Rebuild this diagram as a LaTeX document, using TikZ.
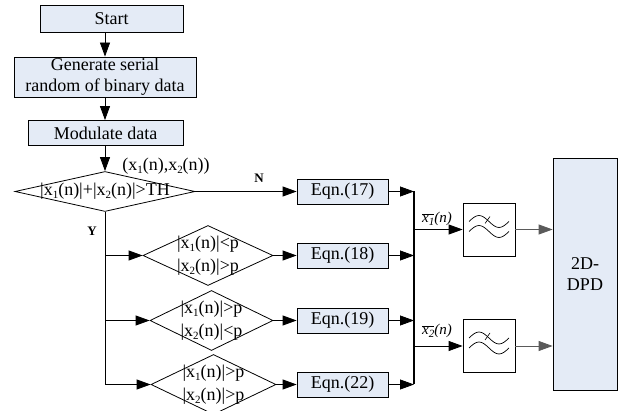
\documentclass[tikz,border=0pt]{standalone}
\usepackage{fontspec}
\setmainfont{Liberation Serif}
\usetikzlibrary{arrows.meta,shapes.geometric,calc}
\definecolor{boxfill}{RGB}{228,235,246}
\definecolor{darkline}{RGB}{90,90,90}
\newcommand\sbx[1]{\raisebox{-0.35ex}{\fontsize{11}{11}\selectfont #1}}
\newcommand\xn[1]{x\sbx{#1}(n)}
\newcommand\xbarlab[1]{$\overline{\mbox{\itshape x\sbx{#1}}}$\textit{(n)}}
\begin{document}
\begin{tikzpicture}[x=1pt,y=-1pt,
 box/.style={draw,fill=boxfill,line width=0.8pt,inner sep=0pt,font=\fontsize{18}{21}\selectfont,align=center},
 dia/.style={draw,diamond,line width=0.8pt,inner sep=0pt},
 txt/.style={inner sep=0pt,font=\fontsize{18}{23}\selectfont,align=center},
 arr/.style={line width=0.8pt,-{Triangle[length=14pt,width=10pt]}},
 ln/.style={line width=0.8pt},
 filt/.style={draw,line width=0.8pt,minimum width=52pt,minimum height=53pt,inner sep=0pt}]
\useasboundingbox (0,0) rectangle (622,411);

% top boxes
\node[box,minimum width=143pt,minimum height=27pt] (start) at (111.5,18.5) {Start};
\node[box,minimum width=182pt,minimum height=40pt] (gen) at (105,77) {Generate serial\\random of binary data};
\node[box,minimum width=155pt,minimum height=25pt] (mod) at (105.5,133) {Modulate data};

% decision diamonds
\node[dia,minimum width=180pt,minimum height=40pt] (d1) at (105,191.5) {};
\node[txt] (d1t) at (105,191) {|\xn{1}|+|\xn{2}|>TH};
\node[dia,minimum width=130pt,minimum height=60pt] (d2) at (208,255.5) {};
\node[txt] (d2t) at (208,256) {|\xn{1}|<p\\|\xn{2}|>p};
\node[dia,minimum width=123pt,minimum height=60pt] (d3) at (211.5,320.5) {};
\node[txt] (d3t) at (211.5,321) {|\xn{1}|>p\\|\xn{2}|<p};
\node[dia,minimum width=125pt,minimum height=60pt] (d4) at (213.5,384.5) {};
\node[txt] (d4t) at (213.5,385) {|\xn{1}|>p\\|\xn{2}|>p};

\node[txt] (pair) at (166,166) {(\xn{1},\xn{2})};
\node[inner sep=0pt,font=\fontsize{13}{13}\selectfont\bfseries] (nlab) at (259,178) {N};
\node[inner sep=0pt,font=\fontsize{13}{13}\selectfont\bfseries] (ylab) at (92,231) {Y};

% equation boxes
\node[box,minimum width=91pt,minimum height=25pt] (e17) at (342.5,191.5) {Eqn.(17)};
\node[box,minimum width=91pt,minimum height=25pt] (e18) at (342.5,255.5) {Eqn.(18)};
\node[box,minimum width=91pt,minimum height=25pt] (e19) at (342.5,320.5) {Eqn.(19)};
\node[box,minimum width=91pt,minimum height=25pt] (e22) at (342.5,384.5) {Eqn.(22)};

% bus
\coordinate (bt) at (414,191.5);
\coordinate (bb) at (414,384.5);
\draw[line width=2.6pt] (bt) -- (bb);

% filters
\node[filt] (f1) at (489,229.5) {};
\node[filt] (f2) at (489,346) {};
\foreach \f in {f1,f2}{
  \draw[line width=0.7pt] ($(\f.center)+(-20,-8)$) sin ++(10,-6) cos ++(10,6) sin ++(10,6) cos ++(10,-6);
  \draw[line width=0.7pt] ($(\f.center)+(-20,2)$) sin ++(10,-6) cos ++(10,6) sin ++(10,6) cos ++(10,-6);
  \draw[line width=0.6pt] ($(\f.center)+(-4,-6)$) -- ($(\f.center)+(1,-13)$);
}

\node[inner sep=0pt,font=\fontsize{15}{15}\selectfont] (l1) at (437,219) {\xbarlab{1}};
\node[inner sep=0pt,font=\fontsize{15}{15}\selectfont] (l2) at (437,331) {\xbarlab{2}};

% DPD
\node[box,minimum width=64pt,minimum height=232pt] (dpd) at (585,274) {2D-\\DPD};

% connectors
\draw[arr] (start.south -| gen.north) -- (gen.north);
\draw[arr] (gen.south) -- (gen.south |- mod.north);
\draw[arr] (gen.south |- mod.south) -- (d1.north);
\draw[arr] (d1.east) -- (d1.east -| e17.west);
\draw[ln] (d1.south) -- (d1.south |- d4.west);
\draw[arr] (d2.west -| d1.south) -- (d2.west);
\draw[arr] (d3.west -| d1.south) -- (d3.west);
\draw[arr] (d4.west -| d1.south) -- (d4.west);
\draw[arr] (d2.east) -- (d2.east -| e18.west);
\draw[arr] (d3.east) -- (d3.east -| e19.west);
\draw[arr] (d4.east) -- (d4.east -| e22.west);
\foreach \e in {e17,e18,e19,e22}{
  \draw[arr] (\e.east) -- (\e.east -| bt);
}
\draw[arr] (f1.west -| bt) -- (f1.west);
\draw[arr] (f2.west -| bt) -- (f2.west);
\draw[arr,draw=darkline] (f1.east) -- (f1.east -| dpd.west);
\draw[arr,draw=darkline] (f2.east) -- (f2.east -| dpd.west);
\end{tikzpicture}
\end{document}
